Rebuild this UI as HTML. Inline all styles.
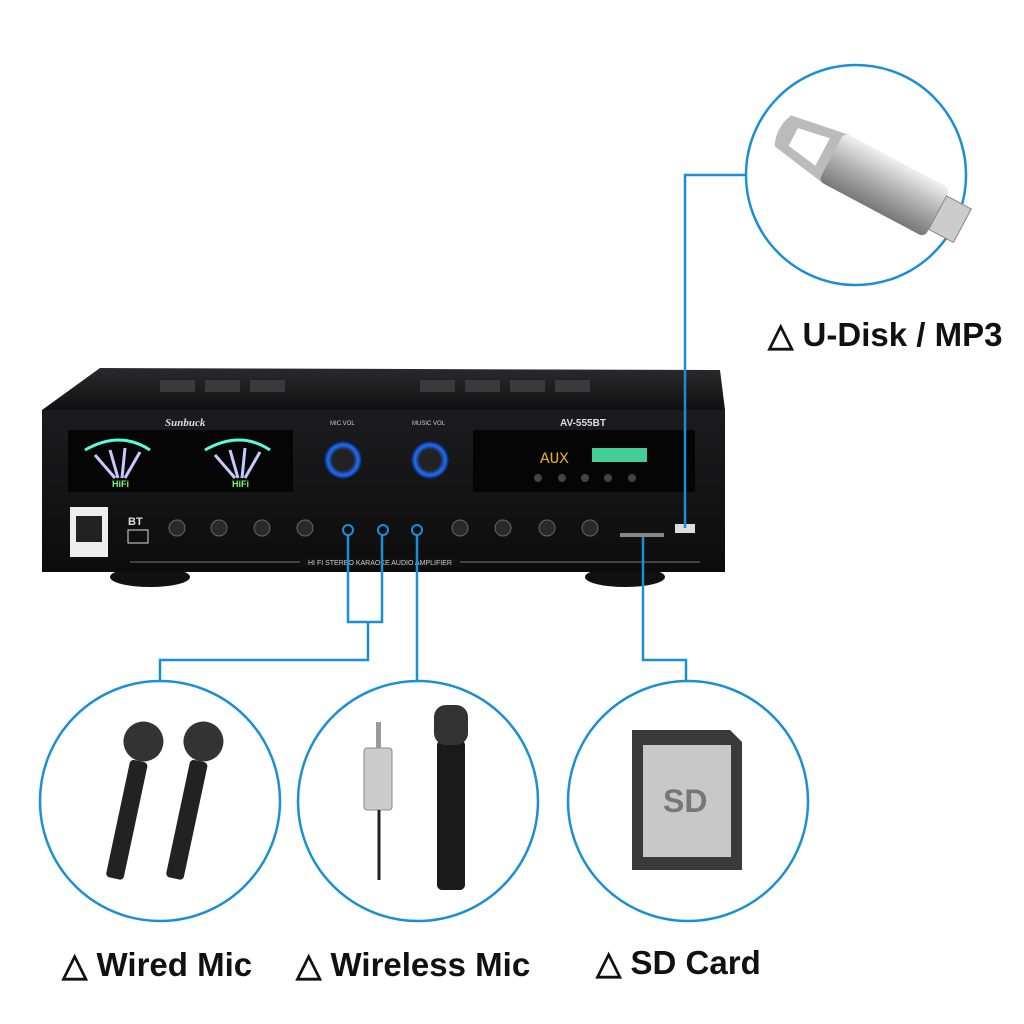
<!DOCTYPE html>
<html><head><style>
html,body{margin:0;padding:0;background:#fff;}
body{width:1024px;height:1024px;position:relative;overflow:hidden;font-family:"Liberation Sans",sans-serif;}
.lbl{position:absolute;font-weight:bold;font-size:33px;color:#111;white-space:nowrap;}
</style></head><body>
<svg width="1024" height="1024" style="position:absolute;left:0;top:0">
<defs>
<linearGradient id="top" x1="0" y1="0" x2="0" y2="1"><stop offset="0" stop-color="#2a2a2c"/><stop offset="1" stop-color="#111"/></linearGradient>
<linearGradient id="front" x1="0" y1="0" x2="0" y2="1"><stop offset="0" stop-color="#1c1c1e"/><stop offset="1" stop-color="#0c0c0c"/></linearGradient>
<radialGradient id="knob"><stop offset="0.55" stop-color="#222"/><stop offset="0.8" stop-color="#1e6fff"/><stop offset="1" stop-color="#0a1a40"/></radialGradient>
<linearGradient id="usb" x1="0" y1="0" x2="0" y2="1"><stop offset="0" stop-color="#f0f0f0"/><stop offset="0.5" stop-color="#b0b0b0"/><stop offset="1" stop-color="#777"/></linearGradient>
</defs>
<polygon points="100,368 720,370 725,410 42,410" fill="url(#top)"/>
<g fill="#3a3a3c">
<rect x="160" y="380" width="35" height="12"/><rect x="205" y="380" width="35" height="12"/><rect x="250" y="380" width="35" height="12"/>
<rect x="420" y="380" width="35" height="12"/><rect x="465" y="380" width="35" height="12"/><rect x="510" y="380" width="35" height="12"/><rect x="555" y="380" width="35" height="12"/>
</g>
<ellipse cx="150" cy="577" rx="40" ry="10" fill="#111"/>
<ellipse cx="625" cy="577" rx="40" ry="10" fill="#111"/>
<rect x="42" y="410" width="683" height="162" fill="url(#front)"/>
<text x="165" y="426" fill="#ddd" font-size="11" font-weight="bold" font-style="italic" font-family="Liberation Serif">Sunbuck</text>
<text x="560" y="426" fill="#ddd" font-size="10" font-weight="bold">AV-555BT</text>
<rect x="68" y="430" width="225" height="62" fill="#050505"/>
<path d="M85 450 Q120 430 150 450" stroke="#5fd" stroke-width="3" fill="none"/>
<path d="M205 450 Q240 430 270 450" stroke="#5fd" stroke-width="3" fill="none"/>
<g stroke="#c8c8ff" stroke-width="3">
<line x1="95" y1="455" x2="115" y2="478"/><line x1="110" y1="450" x2="118" y2="478"/><line x1="125" y1="448" x2="122" y2="478"/><line x1="140" y1="452" x2="125" y2="478"/>
<line x1="215" y1="455" x2="235" y2="478"/><line x1="230" y1="450" x2="238" y2="478"/><line x1="245" y1="448" x2="242" y2="478"/><line x1="260" y1="452" x2="245" y2="478"/>
</g>
<text x="112" y="487" fill="#7f7" font-size="9" font-weight="bold">HiFi</text>
<text x="232" y="487" fill="#7f7" font-size="9" font-weight="bold">HiFi</text>
<rect x="473" y="430" width="222" height="62" fill="#050505"/>
<text x="540" y="463" fill="#e8b020" font-size="16" font-family="Liberation Mono">AUX</text>
<rect x="592" y="448" width="55" height="14" fill="#4c9"/>
<g fill="#444"><circle cx="538" cy="478" r="4"/><circle cx="562" cy="478" r="4"/><circle cx="585" cy="478" r="4"/><circle cx="608" cy="478" r="4"/><circle cx="632" cy="478" r="4"/></g>
<circle cx="343" cy="460" r="19" fill="url(#knob)"/>
<circle cx="430" cy="460" r="19" fill="url(#knob)"/>
<text x="330" y="425" fill="#ccc" font-size="6">MIC.VOL</text>
<text x="412" y="425" fill="#ccc" font-size="6">MUSIC VOL</text>
<rect x="70" y="507" width="38" height="50" fill="#eee"/>
<rect x="76" y="516" width="26" height="26" fill="#222"/>
<text x="128" y="525" fill="#ddd" font-size="11" font-weight="bold">BT</text>
<rect x="128" y="530" width="20" height="13" fill="none" stroke="#ddd"/>
<g fill="#2a2a2a" stroke="#666">
<circle cx="177" cy="528" r="8"/><circle cx="219" cy="528" r="8"/><circle cx="262" cy="528" r="8"/><circle cx="305" cy="528" r="8"/>
<circle cx="460" cy="528" r="8"/><circle cx="503" cy="528" r="8"/><circle cx="547" cy="528" r="8"/><circle cx="590" cy="528" r="8"/>
</g>
<g fill="#111" stroke="#1a8fd6" stroke-width="2"><circle cx="348" cy="530" r="5"/><circle cx="383" cy="530" r="5"/><circle cx="417" cy="530" r="5"/></g>
<rect x="675" y="524" width="20" height="9" fill="#ddd"/>
<rect x="620" y="533" width="44" height="4" fill="#888"/>
<line x1="130" y1="562" x2="700" y2="562" stroke="#777"/>
<rect x="300" y="558" width="160" height="8" fill="#111"/>
<text x="308" y="565" fill="#ccc" font-size="7">HI FI STEREO KARAOKE AUDIO AMPLIFIER</text>
<g stroke="#1a8fd6" stroke-width="2.5" fill="none">
<polyline points="746,175 685,175 685,528"/>
<polyline points="348,535 348,622 382,622 382,535"/>
<polyline points="368,622 368,660 160,660 160,680"/>
<polyline points="417,535 417,680"/>
<polyline points="643,537 643,660 686,660 686,680"/>
</g>
<g fill="#fff" stroke="#1a8fd6" stroke-width="2.5">
<circle cx="856" cy="175" r="110"/>
<circle cx="160" cy="801" r="120"/>
<circle cx="418" cy="801" r="120"/>
<circle cx="688" cy="801" r="120"/>
</g>
<g transform="rotate(28 870 180)">
<path d="M770 160 L830 150 L830 205 L770 195 Q762 178 770 160 Z" fill="#bbb"/>
<path d="M782 168 L815 162 L815 193 L782 188 Z" fill="#fff"/>
<rect x="825" y="150" width="120" height="55" rx="6" fill="url(#usb)"/>
<rect x="945" y="158" width="28" height="38" fill="#ccc" stroke="#888"/>
</g>
<g transform="rotate(12 130 800)"><rect x="122" y="760" width="18" height="120" rx="4" fill="#222"/><circle cx="131" cy="740" r="20" fill="#333"/></g>
<g transform="rotate(12 190 800)"><rect x="182" y="760" width="18" height="120" rx="4" fill="#222"/><circle cx="191" cy="740" r="20" fill="#333"/></g>
<rect x="364" y="748" width="28" height="62" rx="3" fill="#ccc" stroke="#888"/>
<rect x="376" y="722" width="5" height="26" fill="#999"/>
<line x1="379" y1="810" x2="379" y2="880" stroke="#222" stroke-width="3"/>
<rect x="437" y="740" width="28" height="150" rx="5" fill="#1a1a1a"/>
<rect x="434" y="705" width="34" height="40" rx="12" fill="#333"/>
<path d="M632 730 L730 730 L742 742 L742 870 L632 870 Z" fill="#3a3a3a"/>
<rect x="643" y="745" width="88" height="112" fill="#c8c8c8"/>
<text x="663" y="812" fill="#777" font-size="32" font-weight="bold">SD</text>
</svg>
<div class="lbl" style="left:768px;top:315px">△ U-Disk / MP3</div>
<div class="lbl" style="left:62px;top:945px">△ Wired Mic</div>
<div class="lbl" style="left:296px;top:945px">△ Wireless Mic</div>
<div class="lbl" style="left:596px;top:943px">△ SD Card</div>
</body></html>
